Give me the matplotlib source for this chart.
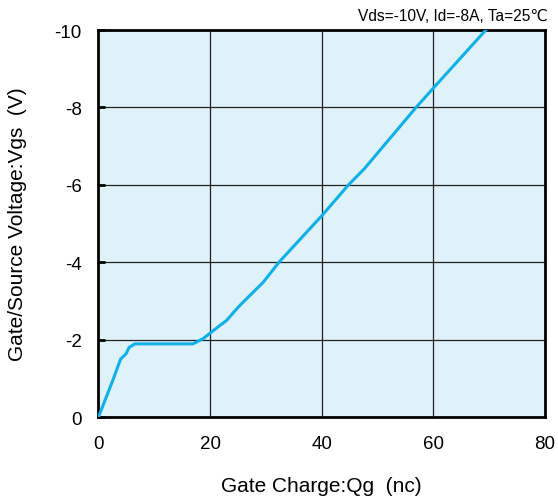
import numpy as np
import matplotlib.pyplot as plt

plt.rcParams['font.family'] = ['Liberation Sans', 'DejaVu Sans']

# gate charge (nC) vs gate/source voltage (V)
qg = [0, 2.65, 3.97, 4.92, 5.5, 6.52, 16.9, 18.7, 21.7, 22.9, 25.3,
      29.5, 32.4, 40, 44.8, 47.6, 56.9, 60, 69.4]
vgs = [0, -0.98, -1.50, -1.63, -1.80, -1.89, -1.89, -2.02, -2.36, -2.49, -2.88,
       -3.48, -4.01, -5.2, -6.0, -6.41, -8.0, -8.5, -10]

xticks = [0, 20, 40, 60, 80]
yticks = [0, -2, -4, -6, -8, -10]

fig = plt.figure(figsize=(5.58, 5.02), dpi=100)
ax = fig.add_axes([0.1765, 0.1673, 0.8002, 0.7709])
ax.set_facecolor('#dff2fa')

ax.plot(qg, vgs, color='#0fb0e8', lw=2.2, zorder=3)

ax.set_xlim(0, 80)
ax.set_ylim(0, -10)
ax.set_xticks(xticks)
ax.set_yticks(yticks)
ax.set_yticklabels([str(v) for v in yticks])
ax.grid(True, color='#222222', lw=0.9)
ax.set_axisbelow(True)

for s in ax.spines.values():
    s.set_linewidth(2)
    s.set_color('black')

ax.tick_params(axis='x', length=0, pad=13, labelsize=13.5)
ax.tick_params(axis='y', direction='in', length=5, width=2, pad=12, labelsize=13.5)

ax.set_xlabel('Gate Charge:Qg  (nc)', fontsize=15, labelpad=17)
ax.set_ylabel('Gate/Source Voltage:Vgs  (V)', fontsize=15, labelpad=20)
fig.text(0.982, 0.968, 'Vds=-10V, Id=-8A, Ta=25℃', ha='right', va='center', fontsize=11.2)

plt.savefig('out.png')
